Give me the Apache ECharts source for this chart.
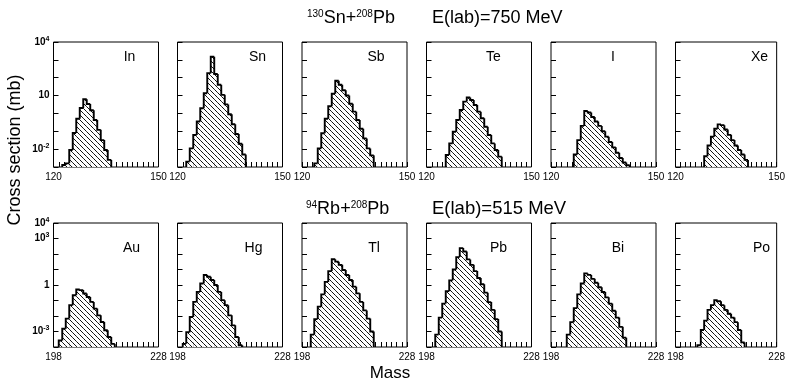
<!DOCTYPE html>
<html>
<head>
<meta charset="utf-8">
<script src="https://cdn.jsdelivr.net/npm/echarts@6/dist/echarts.min.js"></script>
<style>
  html, body { margin: 0; padding: 0; background: #fff; }
  #chart { width: 788px; height: 381px; }
</style>
</head>
<body>
<div id="chart"></div>
<script>
// Fragment mass distributions, 130Sn+208Pb (top row) and 94Rb+208Pb (bottom row)
const topElements = ['In', 'Sn', 'Sb', 'Te', 'I', 'Xe']
const bottomElements = ['Au', 'Hg', 'Tl', 'Pb', 'Bi', 'Po']

const topMassRange = [120, 150]
const bottomMassRange = [198, 228]
const topSigmaRange = [1e-3, 1e4]
const bottomSigmaRange = [1e-4, 1e4]
const topLabelExponents = [4, 1, -2]
const bottomLabelExponents = [4, 3, 0, -3]

// first mass of each histogram (bins are one mass unit wide)
const topFirstMass = [123, 123, 124, 126, 127, 129]
const bottomFirstMass = [200, 200, 201, 201, 203, 205]

// cross sections in mb, one value per mass bin
const inValues = [0.0013, 0.0016, 0.009, 0.08, 0.5, 2.0, 6.2, 3.4, 1.5, 0.43, 0.12, 0.032, 0.009, 0.0025]
const snValues = [0.002, 0.011, 0.062, 0.35, 1.95, 13.5, 180, 1500, 160, 40, 11, 3.2, 0.9, 0.25, 0.07, 0.02, 0.005]
const sbValues = [0.0016, 0.011, 0.078, 0.5, 2.5, 12.6, 68, 40, 20, 10, 3.5, 1.26, 0.43, 0.14, 0.04, 0.011, 0.0045]
const teValues = [0.0047, 0.021, 0.095, 0.43, 1.55, 4.6, 7.9, 5.6, 2.95, 1.26, 0.54, 0.18, 0.062, 0.021, 0.009, 0.0038]
const iValues = [0.005, 0.032, 0.2, 1.38, 1.12, 0.63, 0.35, 0.2, 0.1, 0.05, 0.025, 0.0126, 0.0063, 0.0032, 0.0018, 0.00126]
const xeValues = [0.004, 0.016, 0.05, 0.14, 0.245, 0.22, 0.126, 0.063, 0.032, 0.016, 0.009, 0.005, 0.0025]

const auValues = [0.00026, 0.0015, 0.0068, 0.05, 0.22, 0.51, 0.47, 0.28, 0.17, 0.081, 0.03, 0.011, 0.0041, 0.0012, 0.00044, 0.00016]
const hgValues = [0.00016, 0.00091, 0.0087, 0.081, 0.36, 1.26, 4.4, 3.4, 2.1, 1.0, 0.36, 0.105, 0.05, 0.011, 0.0025, 0.00044, 0.00013]
const tlValues = [0.00063, 0.0063, 0.04, 0.25, 1.58, 7.9, 46, 32, 20, 9.3, 4.4, 2.1, 0.78, 0.29, 0.081, 0.023, 0.0068, 0.001]
const pbValues = [0.00063, 0.0079, 0.063, 0.4, 2.0, 10, 63, 240, 145, 45, 20, 7.9, 2.8, 1.12, 0.32, 0.079, 0.025, 0.0063, 0.001]
const biValues = [0.00063, 0.004, 0.032, 0.25, 1.26, 5.6, 4.5, 2.5, 1.4, 0.71, 0.35, 0.16, 0.063, 0.022, 0.0079, 0.002, 0.0004]
const poValues = [0.00013, 0.00126, 0.005, 0.025, 0.05, 0.105, 0.089, 0.05, 0.025, 0.014, 0.0079, 0.004, 0.00126, 0.0002]

const topValues = [inValues, snValues, sbValues, teValues, iValues, xeValues]
const bottomValues = [auValues, hgValues, tlValues, pbValues, biValues, poValues]

const FONT = '"Liberation Sans", Arial, Helvetica, sans-serif'
const panelLefts = [53.5, 177.5, 302, 426.5, 551, 675.5]
const panelWidth = 105
const rowTops = [42, 223]
const rowHeights = [125, 124]
const labelOffsets = [
  [[76, 15], [80, 15], [74, 15], [67, 15], [62, 15], [84, 15]],
  [[78, 25], [76, 25], [72, 25], [72, 25], [67, 25], [86, 25]],
]

// diagonal "\" hatching used to fill the histograms
function makeHatch() {
  const size = 5
  const canvas = document.createElement('canvas')
  canvas.width = size
  canvas.height = size
  const ctx = canvas.getContext('2d')
  ctx.fillStyle = '#fff'
  ctx.fillRect(0, 0, size, size)
  ctx.strokeStyle = '#111'
  ctx.lineWidth = 1
  ctx.beginPath()
  ctx.moveTo(-1, -1)
  ctx.lineTo(size + 1, size + 1)
  ctx.moveTo(-1, size - 1)
  ctx.lineTo(1, size + 1)
  ctx.moveTo(size - 1, -1)
  ctx.lineTo(size + 1, 1)
  ctx.stroke()
  return { image: canvas, repeat: 'repeat' }
}

const hatch = makeHatch()

function renderBin(params, api) {
  const i = params.dataIndexInside
  const mass = api.value(0)
  const value = api.value(1)
  const cs = params.coordSys
  const bottom = cs.y + cs.height
  const clampY = (y) => Math.max(cs.y, Math.min(bottom, y))
  const left = api.coord([mass - 0.5, value])
  const right = api.coord([mass + 0.5, value])
  const y = clampY(left[1])
  const prevY = i > 0 ? clampY(api.coord([mass, api.value(1, i - 1)])[1]) : bottom
  const children = [
    {
      type: 'rect',
      shape: { x: left[0], y: y, width: right[0] - left[0], height: bottom - y },
      style: { fill: hatch, stroke: null },
    },
    {
      type: 'polyline',
      shape: { points: [[left[0], prevY], [left[0], y], [right[0], y]] },
      style: { stroke: '#000', lineWidth: 1.9, fill: null },
    },
  ]
  if (i === params.dataInsideLength - 1) {
    children.push({
      type: 'line',
      shape: { x1: right[0], y1: y, x2: right[0], y2: bottom },
      style: { stroke: '#000', lineWidth: 1.9 },
    })
  }
  return { type: 'group', children }
}

function yLabel(exponents) {
  return (value) => {
    const e = Math.round(Math.log10(value))
    if (!exponents.includes(e)) return ''
    if (e === 0) return '1'
    if (e === 1) return '10'
    return '10{s|' + e + '}'
  }
}

const grid = []
const xAxis = []
const yAxis = []
const series = []
const graphic = []

const rows = [
  { elements: topElements, values: topValues, first: topFirstMass, mass: topMassRange, sigma: topSigmaRange, exps: topLabelExponents },
  { elements: bottomElements, values: bottomValues, first: bottomFirstMass, mass: bottomMassRange, sigma: bottomSigmaRange, exps: bottomLabelExponents },
]

rows.forEach((row, r) => {
  row.elements.forEach((name, p) => {
    const idx = grid.length
    grid.push({
      left: panelLefts[p],
      top: rowTops[r],
      width: panelWidth,
      height: rowHeights[r],
      show: true,
      borderColor: '#000',
      borderWidth: 1,
      backgroundColor: 'transparent',
    })
    xAxis.push({
      gridIndex: idx,
      type: 'value',
      min: row.mass[0],
      max: row.mass[1],
      interval: 1.5,
      axisLine: { show: false },
      splitLine: { show: false },
      axisTick: { show: true, inside: true, length: 5, lineStyle: { color: '#000', width: 1 } },
      axisLabel: {
        margin: 5,
        fontSize: 10,
        fontFamily: FONT,
        color: '#000',
        formatter: (v) => (v === row.mass[0] || v === row.mass[1] ? String(v) : ''),
      },
    })
    yAxis.push({
      gridIndex: idx,
      type: 'log',
      logBase: 10,
      min: row.sigma[0],
      max: row.sigma[1],
      axisLine: { show: false },
      splitLine: { show: false },
      minorTick: { show: false },
      axisTick: { show: true, inside: true, length: 5, lineStyle: { color: '#000', width: 1 } },
      axisLabel: {
        show: p === 0,
        margin: 4,
        fontSize: 10,
        fontWeight: 'bold',
        fontFamily: FONT,
        color: '#000',
        formatter: yLabel(row.exps),
        rich: {
          s: { fontSize: 7, fontWeight: 'bold', fontFamily: FONT, verticalAlign: 'top', padding: [0, 0, 6, 0] },
        },
      },
    })
    series.push({
      type: 'custom',
      xAxisIndex: idx,
      yAxisIndex: idx,
      renderItem: renderBin,
      data: row.values[p].map((v, k) => [row.first[p] + k, v]),
      silent: true,
    })
    graphic.push({
      type: 'text',
      x: panelLefts[p] + labelOffsets[r][p][0],
      y: rowTops[r] + labelOffsets[r][p][1],
      style: { text: name, font: '14px ' + FONT, fill: '#000', align: 'center', verticalAlign: 'middle' },
    })
  })
})

const sup = { fontSize: 10, fontFamily: FONT, verticalAlign: 'top', padding: [0, 0, 8, 0] }
const main = { fontSize: 18, fontFamily: FONT }
const reactionText = (style) => ({ type: 'text', style: Object.assign({ align: 'left', verticalAlign: 'middle', fill: '#000' }, style) })
graphic.push(
  Object.assign(reactionText({ text: '{s|130}{m|Sn+}{s|208}{m|Pb}', rich: { s: sup, m: main } }), { x: 307, y: 18 }),
  Object.assign(reactionText({ text: 'E(lab)=750 MeV', font: '18px ' + FONT }), { x: 432, y: 18 }),
  Object.assign(reactionText({ text: '{s|94}{m|Rb+}{s|208}{m|Pb}', rich: { s: sup, m: main } }), { x: 306, y: 209 }),
  Object.assign(reactionText({ text: 'E(lab)=515 MeV', font: '18.5px ' + FONT }), { x: 432, y: 209 }),
  {
    type: 'text',
    x: 15,
    y: 150,
    rotation: Math.PI / 2,
    style: { text: 'Cross section (mb)', font: '18px ' + FONT, fill: '#000', align: 'center', verticalAlign: 'middle' },
  },
  {
    type: 'text',
    x: 390,
    y: 373,
    style: { text: 'Mass', font: '17px ' + FONT, fill: '#000', align: 'center', verticalAlign: 'middle' },
  }
)

const chart = echarts.init(document.getElementById('chart'), null, { renderer: 'canvas' })
chart.setOption({
  animation: false,
  backgroundColor: '#fff',
  grid,
  xAxis,
  yAxis,
  series,
  graphic,
})
</script>
</body>
</html>
